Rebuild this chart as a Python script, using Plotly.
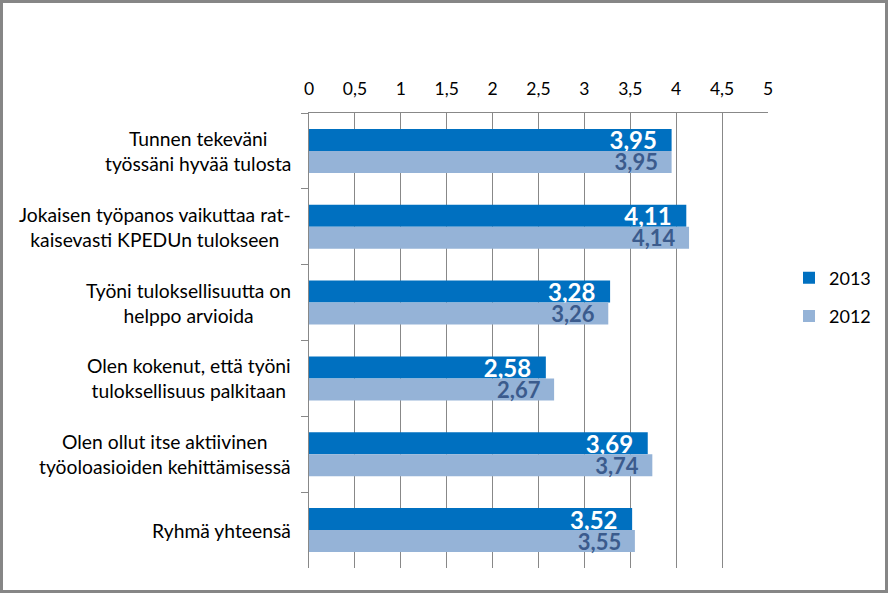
import plotly.graph_objects as go

categories = [
    "Tunnen tekeväni<br>työssäni hyvää tulosta",
    "Jokaisen työpanos vaikuttaa rat-<br>kaisevasti KPEDUn tulokseen",
    "Työni tuloksellisuutta on<br>helppo arvioida",
    "Olen kokenut, että työni<br>tuloksellisuus palkitaan",
    "Olen ollut itse aktiivinen<br>työoloasioiden kehittämisessä",
    "Ryhmä yhteensä",
]
values_2013 = [3.95, 4.11, 3.28, 2.58, 3.69, 3.52]
values_2012 = [3.95, 4.14, 3.26, 2.67, 3.74, 3.55]
series_names = ["2013", "2012"]

W, H = 888, 593
L, R, T, B = 309, 120, 113, 25
PW, PH = W - L - R, H - T - B

FONT = "Lato"
GRID = "#888888"
LABEL_SIZE = 19.3

fig = go.Figure()
fig.add_trace(go.Bar(
    y=categories, x=values_2013, orientation="h", name=series_names[0],
    marker=dict(color="#0070C0", line=dict(width=0)),
    texttemplate="%{x:.2f}\u00a0\u00a0", textposition="inside", insidetextanchor="end",
    textangle=0, constraintext="none",
    insidetextfont=dict(family=FONT, size=24, color="white", weight="bold"),
    legendgroup="a",
))
fig.add_trace(go.Bar(
    y=categories, x=values_2012, orientation="h", name=series_names[1],
    marker=dict(color="#95B3D7", line=dict(width=0)),
    texttemplate="%{x:.2f}\u00a0\u00a0", textposition="inside", insidetextanchor="end",
    textangle=0, constraintext="none",
    insidetextfont=dict(family=FONT, size=22, color="#3B5B8D", weight="bold"),
    legendgroup="b",
))

for c in categories:
    fig.add_annotation(
        text=c, xref="paper", yref="y", x=0, y=c,
        xanchor="right", yanchor="middle", xshift=-16,
        align="center", showarrow=False,
        font=dict(family=FONT, size=LABEL_SIZE, color="black"),
    )

def px_x(px):
    return (px - L) / PW

def px_y(py):
    return (H - B - py) / PH

fig.add_shape(
    type="rect", xref="paper", yref="paper",
    x0=px_x(1.5), x1=px_x(886.5), y0=px_y(591.5), y1=px_y(1.5),
    line=dict(color="#868686", width=3), fillcolor="rgba(0,0,0,0)", layer="above",
)

fig.update_layout(
    width=W, height=H, autosize=False,
    margin=dict(l=L, r=R, t=T, b=B, pad=0, autoexpand=False),
    paper_bgcolor="white", plot_bgcolor="white",
    barmode="group", bargap=0.42, bargroupgap=0,
    separators=", ",
    font=dict(family=FONT, size=18, color="black"),
    xaxis=dict(
        side="top", range=[0, 5], dtick=0.5, tick0=0,
        showgrid=True, gridcolor=GRID, gridwidth=1,
        showline=True, linecolor=GRID, linewidth=1,
        ticks="", ticklabelstandoff=10, zeroline=False,
        tickfont=dict(family=FONT, size=17.5, color="black"),
        fixedrange=True,
    ),
    yaxis=dict(
        autorange="reversed", showticklabels=False,
        tickson="boundaries", ticks="outside", ticklen=7, tickcolor=GRID,
        showline=True, linecolor=GRID, linewidth=1, showgrid=False,
        fixedrange=True,
    ),
    legend=dict(
        xref="container", yref="container",
        x=789 / W, xanchor="left", y=1 - 297 / H, yanchor="middle",
        traceorder="grouped", tracegroupgap=12,
        font=dict(family=FONT, size=18, color="black"),
        bgcolor="rgba(0,0,0,0)",
    ),
    showlegend=True,
)

fig.write_html(
    "out.html",
    config={"displayModeBar": False, "responsive": False},
    post_script="document.body.style.margin='0';document.body.style.overflow='hidden';",
)
